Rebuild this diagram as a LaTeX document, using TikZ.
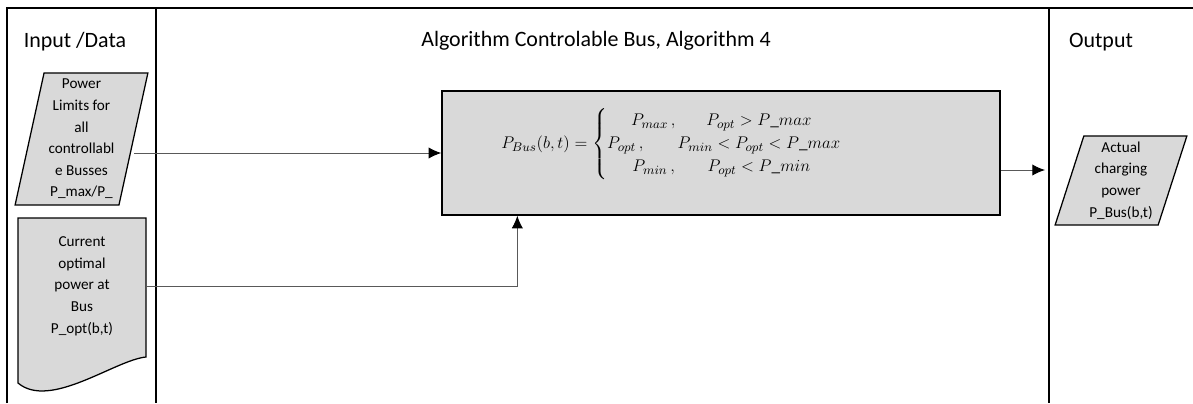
\documentclass[tikz,border=0pt]{standalone}
\usepackage{fontspec}
\setmainfont{Carlito}
\usepackage{amsmath}
\usepackage{mathtools}
\usepackage{tikz}
\usetikzlibrary{positioning,arrows.meta,shapes.geometric}
\definecolor{boxgray}{HTML}{D9D9D9}
\definecolor{linkgray}{HTML}{595959}

\begin{document}
\begin{tikzpicture}[x=0.025cm, y=-0.025cm,
    lane/.style={line width=1.1pt},
    shp/.style={draw, line width=0.9pt, fill=boxgray},
    lbl/.style={align=center, inner sep=0pt, font=\fontsize{10.8}{15.4}\selectfont},
    hdr/.style={font=\fontsize{15.6}{18}\selectfont},
    para/.style={shp, lbl, trapezium, trapezium stretches=true},
    arr/.style={draw=linkgray, line width=0.7pt, -{Latex[black, length=9pt, width=8pt]}}]

    \useasboundingbox (0,0) rectangle (1193,403);

    % swim lanes
    \draw[lane] (7,403) |- (1193,8);
    \draw[lane] (156,8) -- (156,403);
    \draw[lane] (1049,8) -- (1049,403);

    \node[hdr] (hin) at (75,42) {Input /Data};
    \node[hdr] (halg) at (596,41) {Algorithm Controlable Bus, Algorithm 4};
    \node[hdr] (hout) at (1101,42) {Output};

    % inputs
    \node[para, minimum width=3.325cm, minimum height=3.3cm,
          trapezium left angle=78, trapezium right angle=102] (lim) at (81.5,139)
          {Power\\Limits for\\all\\controllabl\\e Busses\\P\_max/P\_};

    \draw[shp] (18,218) -- (146,218) -- (146,357)
          .. controls (115,360) and (50,410) .. (18,383) -- cycle;
    \node[lbl, minimum width=3.2cm] (opt) at (82,286)
          {Current\\optimal\\power at\\Bus\\P\_opt(b,t)};

    % algorithm
    \node[shp, minimum width=13.95cm, minimum height=3.1cm] (bus) at (721,153) {};
    \node[anchor=west, inner sep=0pt, font=\fontsize{12.2}{14}\selectfont] (eq) at (501,144)
          {\renewcommand\arraystretch{1.17}%
           $P_{Bus}(b,t)=\left\{\begin{array}{@{}l@{\qquad}c@{}}
             \hspace{17pt}\mathrlap{P_{max}\,,} & P_{opt}>P\_max\\
             P_{opt}\,, & P_{min}<P_{opt}<P\_max\\
             \hspace{18pt}\mathrlap{P_{min}\,,} & P_{opt}<P\_min
           \end{array}\right.$};

    % output
    \node[para, minimum width=3.3cm, minimum height=2.225cm,
          trapezium left angle=72.5, trapezium right angle=107.5] (res) at (1121,180.5)
          {Actual\\charging\\power\\P\_Bus(b,t)};
    \coordinate (resin) at (1045,170);

    \draw[arr] (lim.east |- bus.west) -- (bus.west);
    \draw[arr] (opt.east) -| ([xshift=1.9cm]bus.south west);
    \draw[arr] (bus.east |- resin) -- (resin);
\end{tikzpicture}
\end{document}
